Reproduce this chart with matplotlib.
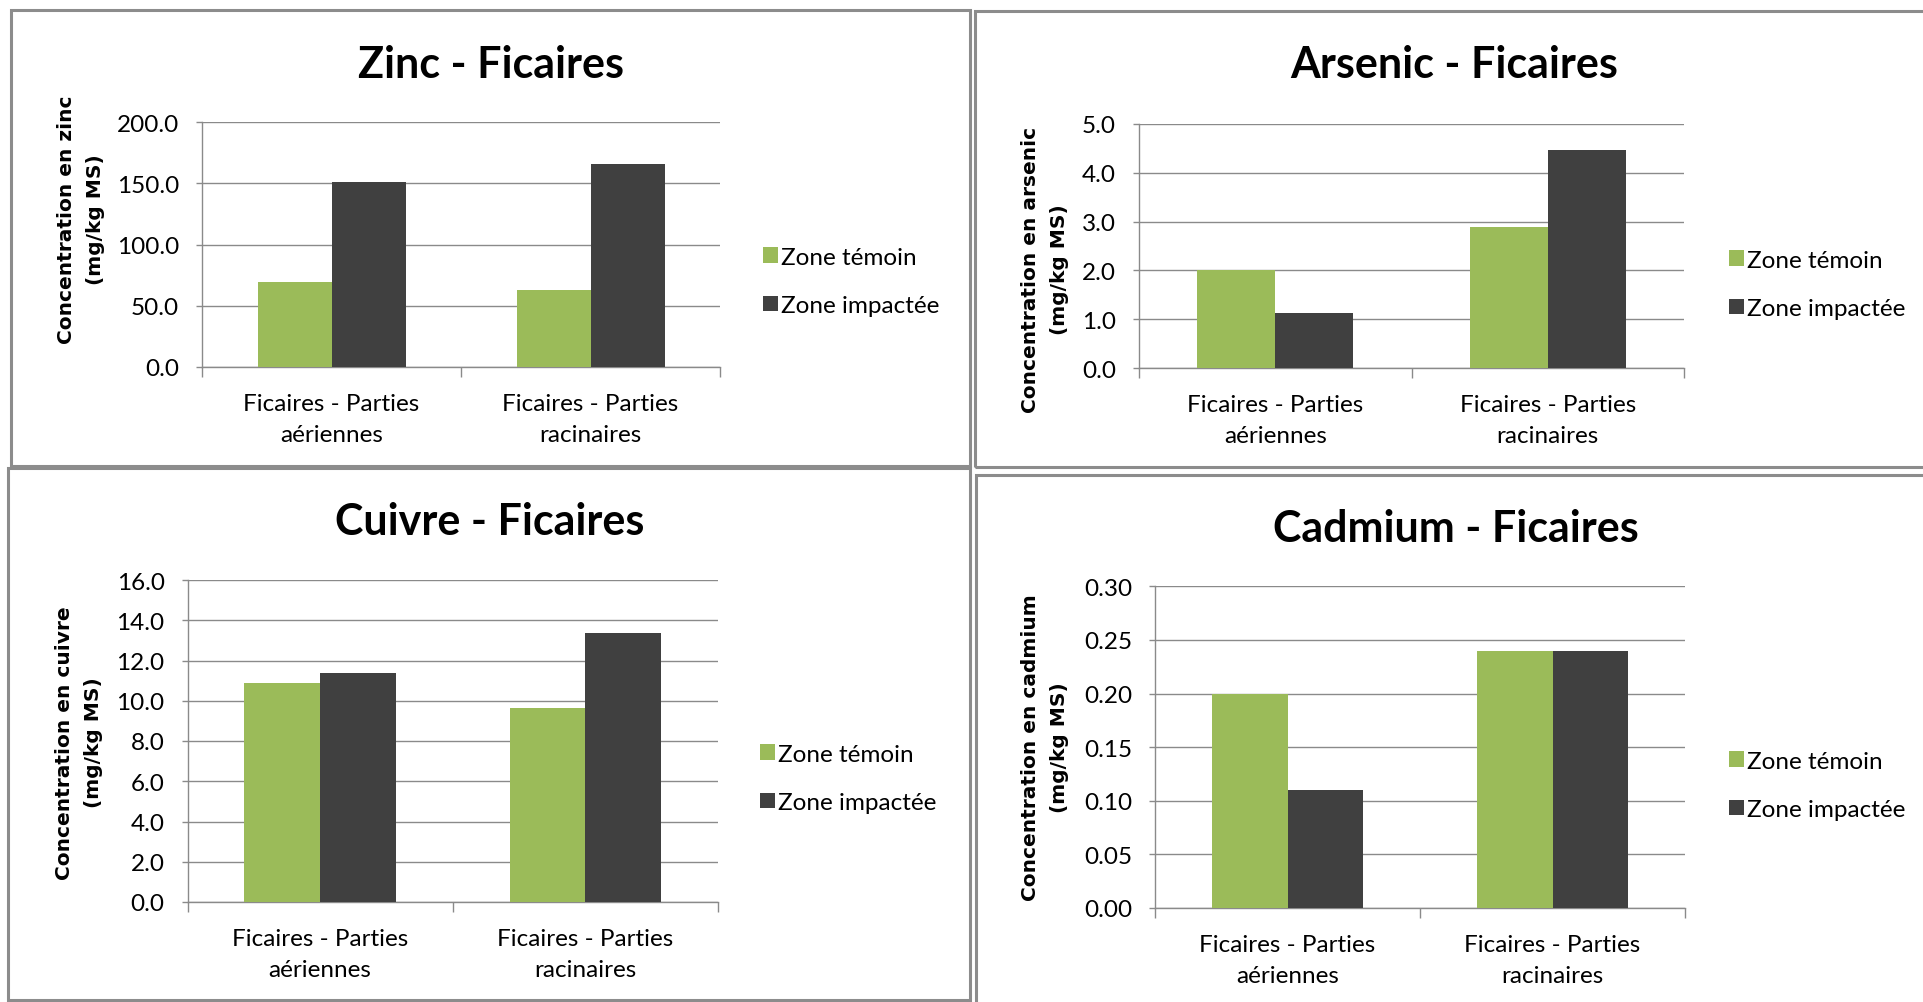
import numpy as np
import matplotlib
matplotlib.use("Agg")
import matplotlib.pyplot as plt
from matplotlib.patches import Rectangle
from matplotlib.ticker import FormatStrFormatter, MultipleLocator

# donnees (mg/kg MS)
categories = ["Ficaires - Parties\naériennes", "Ficaires - Parties\nracinaires"]
series = ["Zone témoin", "Zone impactée"]

zinc_temoin = [69.4, 63.1]
zinc_impact = [151.0, 165.7]
arsenic_temoin = [2.00, 2.89]
arsenic_impact = [1.14, 4.46]
cuivre_temoin = [10.9, 9.66]
cuivre_impact = [11.36, 13.35]
cadmium_temoin = [0.20, 0.24]
cadmium_impact = [0.11, 0.24]

GREEN = "#9BBB59"
DARK = "#404040"
GRID = "#8a8a8a"
FONT = "Lato"

W, H = 1923, 1003
plt.rcParams['font.family'] = [FONT, 'DejaVu Sans']

fig = plt.figure(figsize=(W / 100, H / 100), dpi=100)


def fx(x):
    return x / W


def fy(y):
    return 1 - y / H


# cadres des quatre graphiques
frames = [(11, 11, 970, 467), (975, 12, 1935, 468),
          (8, 469, 970, 1001), (976, 476, 1935, 1012)]
for x0, y0, x1, y1 in frames:
    fig.add_artist(Rectangle((fx(x0), fy(y1)), fx(x1 - x0), (y1 - y0) / H,
                             transform=fig.transFigure, fill=False,
                             edgecolor="#8c8c8c", linewidth=2.2))

panels = [
    # titre, label y, temoin, impact, ymax, pas, format, zone, titre xy, label xy, legende xy
    ("Zinc - Ficaires", "Concentration en zinc", zinc_temoin, zinc_impact,
     200, 50, "%.1f", (202, 123, 720, 368), (491, 65), (81, 220), (763, 282.5)),
    ("Arsenic - Ficaires", "Concentration en arsenic", arsenic_temoin, arsenic_impact,
     5, 1, "%.1f", (1139, 124.7, 1684, 369.3), (1454, 65), (1045, 270), (1729, 285.5)),
    ("Cuivre - Ficaires", "Concentration en cuivre", cuivre_temoin, cuivre_impact,
     16, 2, "%.1f", (187.5, 581, 718, 903), (490, 522), (79, 743), (760, 779.5)),
    ("Cadmium - Ficaires", "Concentration en cadmium", cadmium_temoin, cadmium_impact,
     0.30, 0.05, "%.2f", (1155, 587.4, 1685, 909), (1456, 529), (1045, 748), (1729, 786.5)),
]

x = np.arange(len(categories))
bw = 1 / 3.5

for title, ylab, temoin, impact, ymax, step, fmt, box, txy, lxy, gxy in panels:
    x0, y0, x1, y1 = box
    ax = fig.add_axes([fx(x0), fy(y1), fx(x1 - x0), (y1 - y0) / H])
    b1 = ax.bar(x - bw / 2, temoin, bw, color=GREEN, label=series[0], zorder=3)
    b2 = ax.bar(x + bw / 2, impact, bw, color=DARK, label=series[1], zorder=3)

    ax.set_xlim(-0.5, len(categories) - 0.5)
    ax.set_ylim(0, ymax)
    ax.yaxis.set_major_locator(MultipleLocator(step))
    ax.yaxis.set_major_formatter(FormatStrFormatter(fmt))
    ax.grid(axis="y", color=GRID, linewidth=1.0, zorder=0)
    ax.set_axisbelow(True)

    for s in ("top", "right"):
        ax.spines[s].set_visible(False)
    for s in ("left", "bottom"):
        ax.spines[s].set_color(GRID)
        ax.spines[s].set_linewidth(1.0)

    ax.set_xticks(x)
    ax.set_xticklabels(categories, fontsize=17.5, linespacing=1.6)
    ax.set_xticks(np.arange(len(categories) + 1) - 0.5, minor=True)
    ax.tick_params(axis="x", which="major", length=0, pad=18.5)
    ax.tick_params(axis="x", which="minor", length=7, color=GRID, width=1.0)
    ax.tick_params(axis="y", length=4.5, color=GRID, width=1.0, pad=12,
                   labelsize=17.5)

    fig.text(fx(txy[0]), fy(txy[1]), title, ha="center", va="center",
             fontsize=31, fontweight="bold")
    # titre de l'axe y en caracteres gras plus larges
    fig.text(fx(lxy[0]), fy(lxy[1]), ylab + "\n(mg/kg MS)", rotation=90,
             ha="center", va="center", multialignment="center",
             family="DejaVu Sans", fontsize=14.5, fontweight="bold",
             linespacing=1.65)

    fig.legend(handles=[b1, b2], loc="center left",
               bbox_to_anchor=(fx(gxy[0]), fy(gxy[1])),
               frameon=False, fontsize=17.5, borderpad=0, borderaxespad=0,
               handlelength=0.6, handleheight=0.6, handletextpad=0.15,
               labelspacing=1.13)

fig.savefig("out.png", dpi=100, facecolor="white")
